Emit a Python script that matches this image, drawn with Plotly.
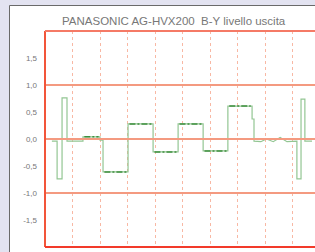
import plotly.graph_objects as go

# Waveform (x in grid divisions, y in volts)
wave_x = [0.25, 0.44, 0.44, 0.62, 0.62, 0.80, 0.80, 1.38, 1.38, 2.00, 2.00, 2.11, 2.11, 3.02, 3.02,
          3.93, 3.93, 4.84, 4.84, 5.75, 5.75, 6.65, 6.65, 7.53, 7.53, 7.60, 7.60, 7.85, 8.05, 8.30,
          8.55, 8.80, 9.16, 9.16, 9.31, 9.31, 9.45, 9.45, 9.71]
wave_y = [-0.04, -0.04, -0.74, -0.74, 0.76, 0.76, -0.04, -0.04, 0.04, 0.04, -0.02, -0.02, -0.61, -0.61, 0.28,
          0.28, -0.24, -0.24, 0.28, 0.28, -0.22, -0.22, 0.61, 0.61, 0.37, 0.37, -0.04, -0.05, 0.0, -0.05,
          0.03, -0.05, -0.04, -0.74, -0.74, 0.74, 0.74, -0.04, -0.04]

# Flat levels (drawn darker)
lvl_x0 = [1.38, 2.11, 3.02, 3.93, 4.84, 5.75, 6.65]
lvl_x1 = [2.00, 3.02, 3.93, 4.84, 5.75, 6.65, 7.53]
lvl_y = [0.04, -0.61, 0.28, -0.24, 0.28, -0.22, 0.61]

tick_vals = [1.5, 1.0, 0.5, 0.0, -0.5, -1.0, -1.5]
tick_text = ["1,5", "1,0", "0,5", "0,0", "-0,5", "-1,0", "-1,5"]
x_grid = [1, 2, 3, 4, 5, 6, 7, 8, 9]
h_lines = [1.0, 0.0, -1.0]
title = "PANASONIC AG-HVX200  B-Y livello uscita"

W, H = 315, 252
L, R, T, B = 45, 0, 31, 5
pw, ph = W - L - R, H - T - B

def px(x):
    return (x - L) / pw

def py(y):
    return (H - B - y) / ph

fig = go.Figure()
fig.add_trace(go.Scatter(x=wave_x, y=wave_y, mode="lines",
                         line=dict(color="#93c693", width=1.2), hoverinfo="skip"))
lx, ly = [], []
for a, b, v in zip(lvl_x0, lvl_x1, lvl_y):
    lx += [a + 0.05, b - 0.05, None]
    ly += [v, v, None]
fig.add_trace(go.Scatter(x=lx, y=ly, mode="lines",
                         line=dict(color="#3f8f3f", width=1.5, dash="6px,2px,2px,2px"), hoverinfo="skip"))

shapes = []
# outer lavender frame
shapes.append(dict(type="rect", xref="paper", yref="paper", x0=px(-2), x1=px(9.5), y0=py(H + 2), y1=py(-2),
                   fillcolor="#e3e3f1", line=dict(width=0), layer="below"))
shapes.append(dict(type="rect", xref="paper", yref="paper", x0=px(-2), x1=px(W + 2), y0=py(5.5), y1=py(-2),
                   fillcolor="#e3e3f1", line=dict(width=0), layer="below"))
shapes.append(dict(type="line", xref="paper", yref="paper", x0=px(9.5), x1=px(9.5), y0=py(H + 2), y1=py(5.5),
                   line=dict(color="#6a6a6a", width=1), layer="below"))
shapes.append(dict(type="line", xref="paper", yref="paper", x0=px(9.5), x1=px(W + 2), y0=py(5.5), y1=py(5.5),
                   line=dict(color="#6a6a6a", width=1), layer="below"))
for v in h_lines:
    shapes.append(dict(type="line", xref="paper", yref="y", x0=0, x1=1, y0=v, y1=v,
                       line=dict(color="#f49a80", width=2.2), layer="above"))
# plot border: left, top, bottom
shapes.append(dict(type="line", xref="paper", yref="paper", x0=0, x1=0, y0=0, y1=1,
                   line=dict(color="#f2553a", width=2), layer="above"))
shapes.append(dict(type="line", xref="paper", yref="paper", x0=0, x1=1, y0=1, y1=1,
                   line=dict(color="#f57a66", width=2), layer="above"))
shapes.append(dict(type="line", xref="paper", yref="paper", x0=0, x1=1, y0=0, y1=0,
                   line=dict(color="#f23a2a", width=2), layer="above"))

fig.update_layout(
    width=W, height=H,
    margin=dict(l=L, r=R, t=T, b=B, pad=0),
    paper_bgcolor="white", plot_bgcolor="white",
    showlegend=False,
    shapes=shapes,
    font=dict(family="Liberation Sans, Arial, sans-serif"),
    xaxis=dict(range=[0, pw / 27.5], tickvals=x_grid, showticklabels=False, ticks="",
               showgrid=True, gridcolor="#f8b8a4", griddash="dot", gridwidth=1,
               zeroline=False, showline=False, fixedrange=True),
    yaxis=dict(range=[-2, 2], tickvals=tick_vals, ticktext=tick_text, ticks="",
               showgrid=False, zeroline=False, showline=False,
               tickfont=dict(size=8, color="#777777"), ticklabelstandoff=7, fixedrange=True),
    annotations=[dict(text=title, xref="paper", yref="paper", x=px(174), y=py(21),
                      xanchor="center", yanchor="middle", showarrow=False,
                      font=dict(size=11.5, color="#777777"))],
)

fig.write_html("out.html", config={"displayModeBar": False},
               post_script="document.body.style.margin='0';document.body.style.background='#e3e3f1';")
